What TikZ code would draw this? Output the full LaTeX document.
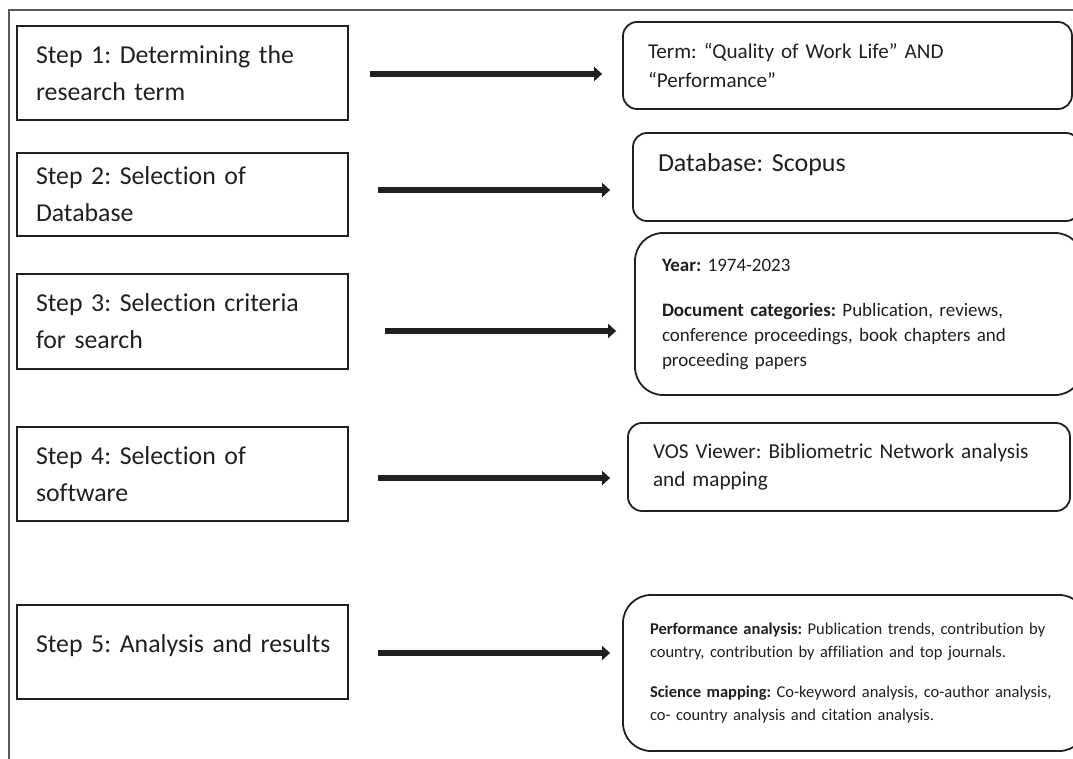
\documentclass[tikz,border=0pt]{standalone}
\usepackage{fontspec}
\setmainfont{Carlito}[Ligatures=NoCommon]
\usetikzlibrary{arrows.meta}
\definecolor{ink}{HTML}{231F20}
\frenchspacing

\begin{document}
\begin{tikzpicture}[x=1pt, y=-1pt, font=\fontsize{25.8}{37}\selectfont, text=ink]
\tikzset{
  stepbox/.style={rectangle, draw=ink, line width=1.8pt, minimum width=331pt, inner xsep=19pt, text width=293pt, align=left},
  infobox/.style={rectangle, rounded corners=14pt, draw=ink, line width=1.8pt, inner xsep=25pt, align=left},
  arr/.style={-{Triangle[length=8pt,width=14pt]}, line width=5.5pt, draw=ink},
}
\useasboundingbox (0,0) rectangle (1073,759);
\clip (0,0) rectangle (1073,759);
\draw[line width=1.2pt, draw=ink!75] (9,759) -- (9,10) -- (1073,10);

\node[stepbox, minimum height=94pt] (s1) at (182.5,73) {Step 1: Determining the\\research term};
\node[stepbox, minimum height=83pt] (s2) at (182.5,194.5) {Step 2: Selection of\\Database};
\node[stepbox, minimum height=95pt] (s3) at (182.5,321.5) {Step 3: Selection criteria\\for search};
\node[stepbox, minimum height=94pt] (s4) at (182.5,474) {Step 4: Selection of\\software};
\node[stepbox, minimum height=94pt] (s5) at (182.5,652) {\mbox{Step 5: Analysis and results}\\[-20pt]\mbox{}};

\node[infobox, minimum width=449pt, minimum height=87pt, text width=399pt, font=\fontsize{21.1}{29}\selectfont] (r1) at (847.5,65.5) {Term: “Quality of Work Life” AND\\“Performance”};
\node[infobox, minimum width=447pt, minimum height=88pt, text width=397pt, inner xsep=24pt, font=\fontsize{26}{29}\selectfont] (r2) at (856.5,177) {Database: Scopus\\\mbox{}};
\node[infobox, rounded corners=28pt, minimum width=448pt, minimum height=162pt, text width=394pt, inner xsep=27pt, font=\fontsize{19}{25}\selectfont] (r3) at (859,314) {\textbf{Year:} 1974-2023\\[20pt]\textbf{Document categories:} Publication, reviews,\\conference proceedings, book chapters and\\proceeding papers};
\node[infobox, minimum width=442pt, minimum height=88pt, text width=392pt, font=\fontsize{21.2}{28}\selectfont] (r4) at (849,467) {VOS Viewer: Bibliometric Network analysis\\and mapping};
\node[infobox, rounded corners=28pt, minimum width=464pt, minimum height=156pt, text width=410pt, inner xsep=27pt, font=\fontsize{16.5}{23}\selectfont] (r5) at (855,673) {\textbf{Performance analysis:} Publication trends, contribution by\\country, contribution by affiliation and top journals.\\[17pt]\textbf{Science mapping:} Co-keyword analysis, co-author analysis,\\co- country analysis and citation analysis.};

\draw[arr] ([xshift=21pt, yshift=-1pt]s1.east) -- ([xshift=-20pt, yshift=-1pt]s1.east -| r1.west);
\draw[arr] ([xshift=29pt, yshift=4.5pt]s2.east) -- ([xshift=-22pt, yshift=4.5pt]s2.east -| r2.west);
\draw[arr] ([xshift=36pt, yshift=-9.5pt]s3.east) -- ([xshift=-18pt, yshift=-9.5pt]s3.east -| r3.west);
\draw[arr] ([xshift=29pt, yshift=-4pt]s4.east) -- ([xshift=-17pt, yshift=-4pt]s4.east -| r4.west);
\draw[arr] ([xshift=29pt, yshift=-1pt]s5.east) -- ([xshift=-12pt, yshift=-1pt]s5.east -| r5.west);
\end{tikzpicture}
\end{document}
